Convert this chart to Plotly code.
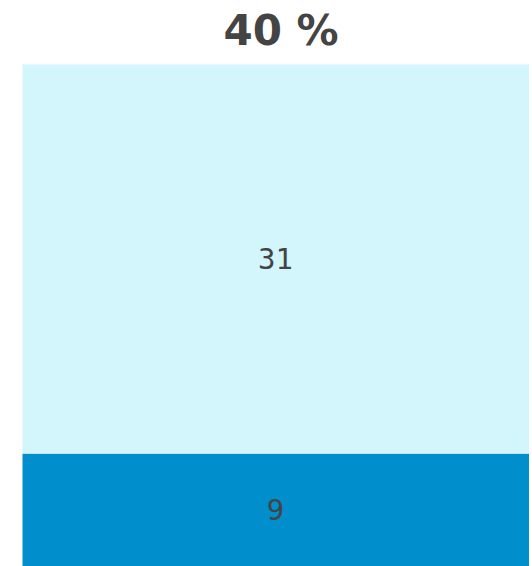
import plotly.graph_objects as go

categories = ["Total"]
series_names = ["Bottom", "Top"]
bottom_values = [9]
top_values = [31]
total_label = "40 %"

colors = {"Bottom": "#008ECC", "Top": "#D3F5FC"}

W, H = 532, 566

fig = go.Figure()
for name, vals in zip(series_names, [bottom_values, top_values]):
    fig.add_trace(go.Bar(
        x=categories, y=vals, name=name,
        text=[str(v) for v in vals],
        textposition="inside", insidetextanchor="middle",
        textfont=dict(family="DejaVu Sans Mono", size=29, color="#444444"),
        marker=dict(color=colors[name], line=dict(color="rgba(255,255,255,0.5)", width=1)),
        hoverinfo="skip",
    ))

fig.update_layout(
    barmode="stack", bargap=0,
    width=W, height=H,
    margin=dict(l=22, r=3, t=64, b=0),
    paper_bgcolor="white", plot_bgcolor="white",
    showlegend=False,
    title=dict(text=total_label, x=281 / W, xanchor="center", xref="container",
               y=1 - 30 / H, yref="container", yanchor="middle",
               font=dict(family="DejaVu Sans", size=42, color="#444444", weight="bold")),
    xaxis=dict(visible=False),
    yaxis=dict(visible=False, range=[0, sum(bottom_values) + sum(top_values)]),
)
fig.write_html(
    "out.html",
    config={"displayModeBar": False, "staticPlot": True},
    post_script="document.body.style.margin='0';document.body.style.overflow='hidden';",
)
